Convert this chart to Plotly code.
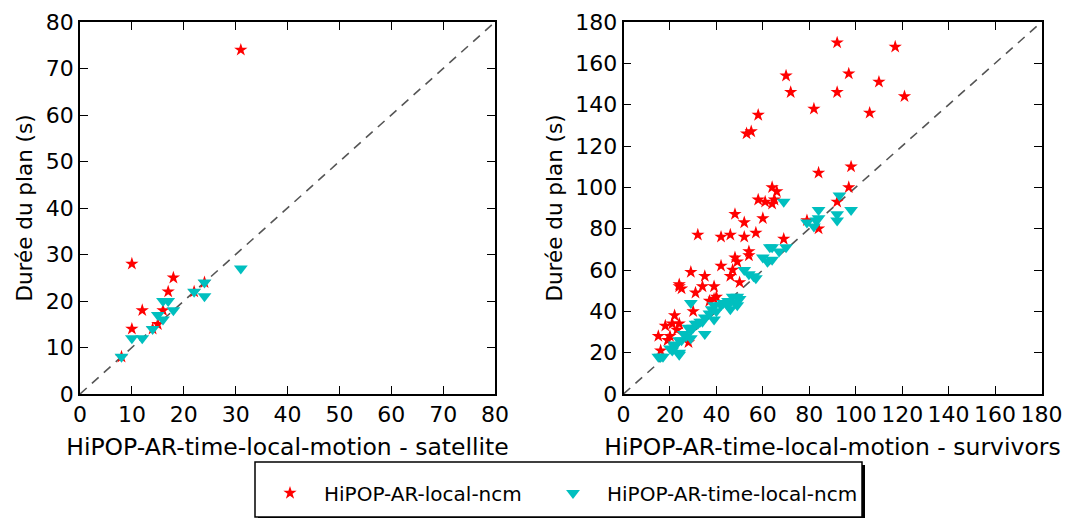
import plotly.graph_objects as go

# ---------------- data: left panel (satellite) ----------------
sat_local_x = [8, 10, 10, 12, 14, 15, 16, 17, 18, 22, 24, 31]
sat_local_y = [8, 14, 28, 18, 14, 15, 18, 22, 25, 22, 24, 74]
sat_time_x = [8, 10, 12, 14, 16, 15, 18, 16, 17, 22, 24, 24, 31]
sat_time_y = [8, 12, 12, 14, 16, 17, 18, 20, 20, 22, 24, 21, 27]

# ---------------- data: right panel (survivors) ----------------
surv_local_x = [92, 117, 70, 97, 110, 72, 92, 121, 82, 106, 58, 53, 55,
                84, 98, 97, 64, 66, 65, 58, 61, 92, 64, 69, 79, 84, 48, 52, 60,
                42, 46, 52, 57, 32, 54, 54, 48, 49, 42, 47, 46, 50, 35, 29, 34,
                39, 24, 25, 24, 31, 37, 39, 40, 30, 22, 18, 21, 24, 23, 15, 20,
                19, 16, 28]
surv_local_y = [170, 168, 154, 155, 151, 146, 146, 144, 138, 136, 135, 126, 127,
                107, 110, 100, 100, 98, 94, 94, 93, 93, 92, 75, 84, 80, 87, 83, 85,
                76, 77, 76, 78, 77, 69, 67, 66, 64, 62, 60, 57, 54, 57, 59, 52,
                52, 52, 51, 53, 49, 45, 46, 47, 40, 38, 33, 34, 34, 31, 28, 28,
                26, 21, 25]
surv_time_x = [15, 16, 17, 21, 20, 24, 24, 22, 22, 25, 24, 27, 26, 29, 29, 30,
               28, 31, 32, 34, 33, 35, 35, 37, 39, 38, 40, 39, 42, 43, 45, 46,
               48, 50, 49, 29, 45, 49, 47,
               52, 54, 56, 57, 60, 62, 64, 63, 64, 67, 70, 69, 79, 82, 83, 84,
               84, 92, 92, 93, 98]
surv_time_y = [18, 18, 18, 21, 22, 19, 20, 24, 23, 26, 26, 28, 29, 27, 31, 32,
               32, 34, 34, 35, 35, 29, 37, 39, 36, 41, 40, 43, 43, 44, 45, 41,
               44, 46, 47, 44, 43, 43, 47,
               60, 58, 57, 56, 66, 64, 65, 71, 71, 69, 71, 93, 83, 81, 84, 89,
               85, 87, 84, 96, 89]

sat_range = [0, 80]
surv_range = [0, 180]
sat_ticks = list(range(0, 81, 10))
surv_ticks = list(range(0, 181, 20))

label_local = "HiPOP-AR-local-ncm"
label_time = "HiPOP-AR-time-local-ncm"
red = "#ff0000"
cyan = "#00bfbf"

fig = go.Figure()

# identity lines
for ax, rng in (("", sat_range), ("2", surv_range)):
    fig.add_trace(go.Scatter(x=rng, y=rng, mode="lines", xaxis="x" + ax, yaxis="y" + ax,
                             line=dict(color="#555555", width=1.6, dash="9px,7px"),
                             showlegend=False, hoverinfo="skip"))

star = dict(symbol="star", color=red, size=10, line=dict(width=0))
tri = dict(symbol="triangle-down", color=cyan, size=12, line=dict(width=0))

fig.add_trace(go.Scatter(x=sat_local_x, y=sat_local_y, mode="markers", marker=star,
                         name=label_local, xaxis="x", yaxis="y", legendgroup="a",
                         legend="legend"))
fig.add_trace(go.Scatter(x=sat_time_x, y=sat_time_y, mode="markers", marker=tri,
                         name=label_time, xaxis="x", yaxis="y", legendgroup="b",
                         legend="legend2"))
fig.add_trace(go.Scatter(x=surv_local_x, y=surv_local_y, mode="markers", marker=star,
                         name=label_local, xaxis="x2", yaxis="y2", legendgroup="a",
                         showlegend=False))
fig.add_trace(go.Scatter(x=surv_time_x, y=surv_time_y, mode="markers", marker=tri,
                         name=label_time, xaxis="x2", yaxis="y2", legendgroup="b",
                         showlegend=False))

W, H = 1072, 518
ydom = [(H - 394) / H, (H - 22) / H]

axis_common = dict(showgrid=False, zeroline=False, showline=True, linecolor="black",
                   linewidth=1.5, mirror="allticks", ticks="inside", ticklen=8,
                   tickwidth=1.2, tickcolor="black", automargin=False,
                   tickfont=dict(family="DejaVu Sans", size=22, color="black"))
xtitle_font = dict(family="DejaVu Sans", size=23.5, color="black")
ytitle_font = dict(family="DejaVu Sans", size=21.5, color="black")

# legend frame with shadow
lx0, lx1, ly0, ly1 = 255, 862, 462, 517
shapes = [
    dict(type="rect", xref="paper", yref="paper",
         x0=(lx0 + 3) / W, x1=(lx1 + 3) / W, y0=(H - ly1 - 3) / H, y1=(H - ly0 - 3) / H,
         fillcolor="#000000", line=dict(width=0), layer="above"),
    dict(type="rect", xref="paper", yref="paper",
         x0=lx0 / W, x1=lx1 / W, y0=(H - ly1) / H, y1=(H - ly0) / H,
         fillcolor="white", line=dict(color="black", width=1.5), layer="above"),
]

legend_common = dict(orientation="h", xanchor="left", y=(H - 493) / H, yanchor="middle",
                     borderwidth=0, bgcolor="rgba(0,0,0,0)",
                     font=dict(family="DejaVu Sans", size=20, color="black"),
                     itemwidth=58)

fig.update_layout(
    width=W, height=H,
    margin=dict(l=0, r=0, t=0, b=0),
    paper_bgcolor="white", plot_bgcolor="white",
    font=dict(family="DejaVu Sans", color="black"),
    xaxis=dict(axis_common, domain=[80 / W, 495 / W], range=sat_range,
               tickvals=sat_ticks, anchor="y",
               title=dict(text="HiPOP-AR-time-local-motion - satellite", standoff=12,
                          font=xtitle_font)),
    yaxis=dict(axis_common, domain=ydom, range=sat_range, tickvals=sat_ticks, anchor="x",
               title=dict(text="Durée du plan (s)", standoff=7, font=ytitle_font)),
    xaxis2=dict(axis_common, domain=[623.5 / W, 1041.5 / W], range=surv_range,
                tickvals=surv_ticks, anchor="y2",
                title=dict(text="HiPOP-AR-time-local-motion - survivors", standoff=12,
                           font=xtitle_font)),
    yaxis2=dict(axis_common, domain=ydom, range=surv_range, tickvals=surv_ticks, anchor="x2",
                title=dict(text="Durée du plan (s)", standoff=7, font=ytitle_font)),
    shapes=shapes,
    legend=dict(legend_common, x=256 / W),
    legend2=dict(legend_common, x=539 / W),
    showlegend=True,
)

fig.write_html("out.html", config={"displayModeBar": False},
               post_script="document.body.style.margin='0px';document.body.style.overflow='hidden';")
